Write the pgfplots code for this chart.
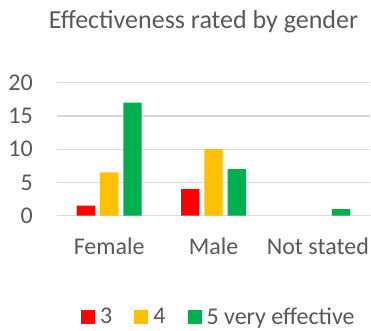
\documentclass[border=0pt]{standalone}
\usepackage{pgfplots}
\pgfplotsset{compat=1.18}
\usepackage{fontspec}
\setmainfont{Carlito}
\definecolor{txtgray}{HTML}{595959}
\definecolor{gridgray}{HTML}{D9D9D9}
\definecolor{cthree}{HTML}{FF0000}
\definecolor{cfour}{HTML}{FFC000}
\definecolor{cfive}{HTML}{00B050}
\begin{document}
\begin{tikzpicture}
\path[use as bounding box] (0,0) rectangle (371bp,331bp);
\begin{axis}[
  at={(57bp,115.3bp)}, anchor=south west,
  scale only axis, width=313bp, height=133bp,
  xmin=-0.5, xmax=2.5, ymin=0, ymax=20,
  ytick={0,5,10,15,20},
  xtick={0,1,2},
  xticklabels={Female,Male,Not stated},
  major tick length=0pt,
  axis line style={draw=none},
  ymajorgrids,
  grid style={draw=gridgray, line width=1.3bp},
  /pgf/number format/assume math mode=true,
  ticklabel style={font=\fontsize{24bp}{28bp}\selectfont, text=txtgray, inner sep=0pt},
  yticklabel style={anchor=east, xshift=-24bp},
  xticklabel style={anchor=base, yshift=-38.6bp},
  title={Effectiveness rated by gender},
  title style={at={(0.468,1)}, anchor=base, yshift=48.7bp,
    font=\fontsize{26bp}{30bp}\selectfont, text=txtgray, inner sep=0pt},
  ybar, bar width=18.4bp,
  legend columns=-1,
  legend style={at={(0.0767,-0.76)}, anchor=west, draw=none, inner sep=0pt,
    font=\fontsize{24bp}{28bp}\selectfont, text=txtgray,
    nodes={inner sep=0pt},
    /tikz/every even column/.append style={column sep=22bp}},
  legend image code/.code={%
    \fill[#1] (0bp,-7bp) rectangle (14bp,7bp);
    \path (19bp,0bp);},
]
\addplot[fill=cthree, draw=none, bar shift=-23.3bp] coordinates {(0,1.5) (1,4)};
\addplot[fill=cfour, draw=none, bar shift=0bp] coordinates {(0,6.5) (1,10)};
\addplot[fill=cfive, draw=none, bar shift=23.3bp] coordinates {(0,17) (1,7) (2,1)};
\legend{3,4,5 very effective}
\end{axis}
\end{tikzpicture}
\end{document}
